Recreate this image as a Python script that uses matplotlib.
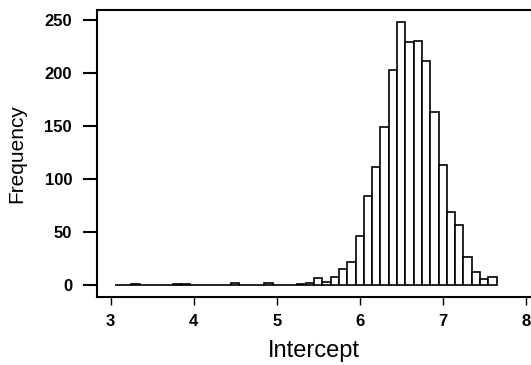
import matplotlib
matplotlib.use("Agg")
import matplotlib.pyplot as plt

# Histogram of intercept estimates: bin centres (width 0.1) and counts
bin_centers = [round(3.1 + 0.1 * i, 1) for i in range(46)]
counts = [
    0, 0, 1, 0, 0, 0, 0, 1, 1, 0,      # 3.1 - 4.0
    0, 0, 0, 0, 2, 0, 0, 0, 2, 0,      # 4.1 - 5.0
    0, 0, 1, 2, 7, 3, 8, 15, 22, 46,   # 5.1 - 6.0
    84, 111, 149, 203, 248, 229, 230, 211, 163, 113,  # 6.1 - 7.0
    69, 57, 26, 12, 6, 8,              # 7.1 - 7.6
]
bin_width = 0.1

x_ticks = [3, 4, 5, 6, 7, 8]
y_ticks = [0, 50, 100, 150, 200, 250]

plt.rcParams["font.family"] = ["Liberation Sans", "DejaVu Sans"]

fig = plt.figure(figsize=(5.31, 3.65), dpi=100)
ax = fig.add_axes([97 / 531, 1 - 297 / 365, 1 - 97 / 531, 287 / 365])

ax.bar(bin_centers, counts, width=bin_width, align="center",
       facecolor="white", edgecolor="black", linewidth=1.2)

ax.set_xlim(2.835, 8.064)
ax.set_ylim(-11.3, 259.4)

ax.set_xticks(x_ticks)
ax.set_yticks(y_ticks)
ax.tick_params(axis="y", length=10, width=1.5, pad=8, labelsize=12)
ax.tick_params(axis="x", length=6, width=1.0, pad=6, labelsize=12)
for lab in ax.get_xticklabels() + ax.get_yticklabels():
    lab.set_fontweight("bold")

for side in ("left", "bottom", "top"):
    ax.spines[side].set_linewidth(1.5)
ax.spines["right"].set_visible(False)

ax.set_xlabel("Intercept", fontsize=17, labelpad=8)
ax.set_ylabel("Frequency", fontsize=15, labelpad=13)

fig.savefig("out.png", dpi=100)
